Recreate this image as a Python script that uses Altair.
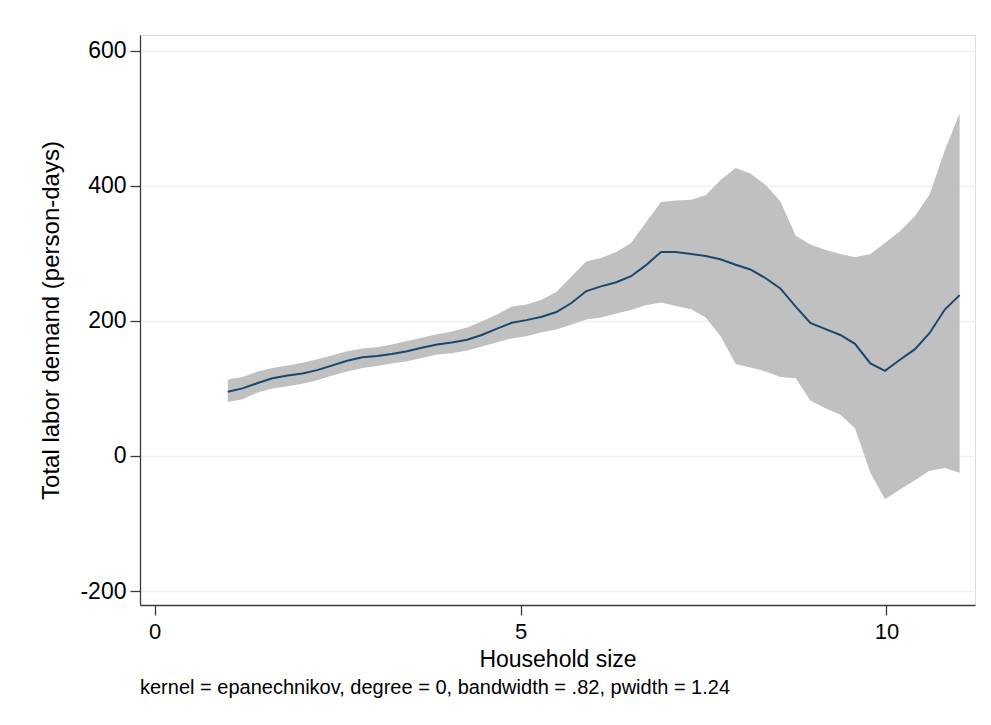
import altair as alt
import pandas as pd

# lpoly grid (50 points from 1 to 11)
hh_size = [1.00, 1.20, 1.41, 1.61, 1.82, 2.02, 2.22, 2.43, 2.63, 2.84,
           3.04, 3.24, 3.45, 3.65, 3.86, 4.06, 4.27, 4.47, 4.67, 4.88,
           5.08, 5.29, 5.49, 5.69, 5.90, 6.10, 6.31, 6.51, 6.71, 6.92,
           7.12, 7.33, 7.53, 7.73, 7.94, 8.14, 8.35, 8.55, 8.76, 8.96,
           9.16, 9.37, 9.57, 9.78, 9.98, 10.18, 10.39, 10.59, 10.80, 11.00]

fit = [95, 100, 108, 115, 119, 122, 127, 134, 141, 146,
       148, 151, 155, 160, 165, 168, 172, 179, 188, 197,
       201, 206, 213, 226, 244, 251, 257, 266, 282, 302,
       302, 299, 296, 291, 283, 276, 263, 248, 221, 197,
       188, 179, 166, 137, 126, 142, 158, 182, 217, 238]

ci_upper = [113, 117, 125, 130, 134, 138, 143, 149, 155, 159,
            161, 165, 170, 175, 180, 184, 190, 199, 209, 221,
            224, 231, 243, 265, 288, 293, 302, 315, 345, 376,
            378, 379, 386, 408, 426, 418, 401, 377, 326, 313,
            305, 299, 294, 299, 315, 332, 355, 387, 453, 507]

ci_lower = [80, 84, 94, 100, 103, 107, 112, 119, 125, 130,
            133, 137, 140, 145, 150, 152, 156, 162, 168, 174,
            177, 183, 187, 194, 202, 205, 211, 216, 223, 227,
            222, 217, 205, 178, 136, 131, 125, 117, 115, 82,
            71, 61, 41, -25, -64, -50, -36, -22, -18, -25]

x_ticks = [0, 5, 10]
y_ticks = [-200, 0, 200, 400, 600]

df = pd.DataFrame({"x": hh_size, "y": fit, "lo": ci_lower, "hi": ci_upper})

FONT = "Liberation Sans"
AX = "#3a3a3a"

xscale = alt.Scale(domain=[-0.2, 11.21], nice=False, zero=False)
yscale = alt.Scale(domain=[-220.6, 623], nice=False, zero=False)

xaxis = alt.Axis(values=x_ticks, title="Household size", grid=False,
                 labelFontSize=22, titleFontSize=23, labelFont=FONT, titleFont=FONT,
                 titleFontWeight="normal", labelColor="black", titleColor="black",
                 tickSize=10, tickColor=AX, domainColor=AX, domainWidth=1.3, tickWidth=1.3,
                 labelPadding=6, titlePadding=6, labelExpr="'' + datum.value")
yaxis = alt.Axis(values=y_ticks, title="Total labor demand (person-days)", grid=True,
                 gridColor="#EAF2F3", gridWidth=1.5,
                 labelFontSize=23, titleFontSize=24, labelFont=FONT, titleFont=FONT,
                 titleFontWeight="normal", labelColor="black", titleColor="black",
                 tickSize=10, tickColor=AX, domainColor=AX, domainWidth=1.3, tickWidth=1.3,
                 labelPadding=4, titlePadding=16, labelExpr="'' + datum.value")

base = alt.Chart(df)
band = base.mark_area(color="#C0C0C0", opacity=1).encode(
    x=alt.X("x:Q", scale=xscale, axis=xaxis),
    y=alt.Y("lo:Q", scale=yscale, axis=yaxis),
    y2="hi:Q",
)
line = base.mark_line(color="#1A476F", strokeWidth=2).encode(
    x=alt.X("x:Q", scale=xscale, axis=xaxis),
    y=alt.Y("y:Q", scale=yscale, axis=yaxis),
)

chart = alt.layer(band, line).properties(
    width=835,
    height=570,
    autosize=alt.AutoSizeParams(type="none"),
    padding={"left": 132, "top": 27, "right": 8, "bottom": 105},
    title=alt.TitleParams(
        text="kernel = epanechnikov, degree = 0, bandwidth = .82, pwidth = 1.24",
        orient="bottom", anchor="start", frame="group",
        fontSize=20, fontWeight="normal", font=FONT, color="black", offset=7,
    ),
).configure_view(stroke=None).configure(background="white")

chart.save("out.html", embed_options={"renderer": "svg", "actions": False})
